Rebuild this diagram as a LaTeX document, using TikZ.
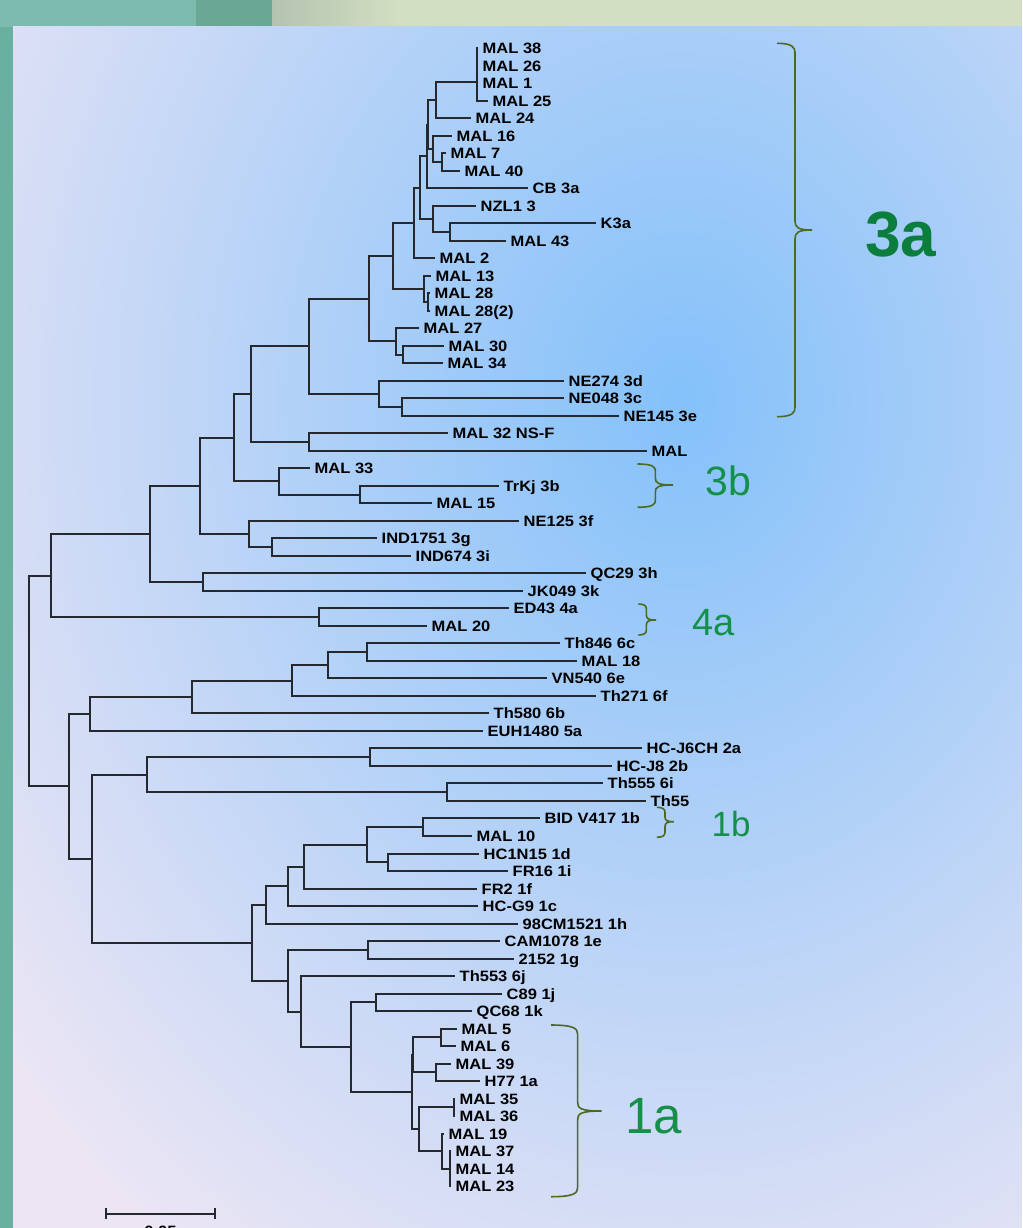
\documentclass[tikz,border=0pt]{standalone}
\usepackage{fontspec}
\newfontfamily\labfont{Liberation Sans Bold}[FakeStretch=1.1]
\newfontfamily\clfont{Liberation Sans}
\newfontfamily\clbfont{Liberation Sans Bold}
\definecolor{treec}{HTML}{25282E}
\definecolor{bracec}{HTML}{4E6A22}
\definecolor{clgreen}{HTML}{15904A}
\definecolor{cldark}{HTML}{0B7D3C}
\definecolor{blueC}{HTML}{84C1FA}
\definecolor{lavC}{HTML}{EBE5F4}
\definecolor{tealA}{HTML}{7DBBB1}
\definecolor{tealB}{HTML}{6AA795}
\definecolor{khakiA}{HTML}{D3DFC2}
\definecolor{khakiB}{HTML}{B4C2B0}
\definecolor{tealL}{HTML}{6AB0A0}
\tikzset{
  br/.style={draw=treec, line width=1.8pt, line cap=rect},
  lab/.style={anchor=west, inner sep=0pt, xshift=5.5pt, text height=10.7pt, text depth=0pt,
    font=\labfont\fontsize{15}{15}\selectfont, text=black},
  brc/.style={draw=bracec, line width=1.6pt},
  cl/.style={inner sep=0pt, anchor=west, text depth=0pt, text=clgreen}
}
\newcommand\cd[3]{\coordinate (#1) at ({round(#2)},{round(#3)});}
\newcommand\leaf[4]{\cd{t#1}{#2}{#3}\node[lab] (l#1) at (t#1) {#4};}
\newcommand\kids[2]{\foreach \c in {#2} {\draw[br] (#1) |- (\c);}}
\newcommand\cbrace[7]{%
  \draw[brc] (#1,#4) .. controls ({#2-0.4*#7},#4) and (#2,{#4+0.4*#7}) .. (#2,{#4+#7})
    -- (#2,{#5-#7}) .. controls (#2,{#5-0.3*#7}) and ({#2+0.3*#7},#5) .. (#3,#5)
    .. controls ({#2+0.3*#7},#5) and (#2,{#5+0.3*#7}) .. (#2,{#5+#7})
    -- (#2,{#6-#7}) .. controls (#2,{#6-0.4*#7}) and ({#2-0.4*#7},#6) .. (#1,#6);}
\begin{document}
\begin{tikzpicture}[x=1pt,y=-1pt]
\useasboundingbox (0,0) rectangle (1022,1228);
\clip (0,0) rectangle (1022,1228);
% background
\fill[tealL] (0,0) rectangle (13,1228);
\fill[tealA] (0,0) rectangle (196,27);
\fill[tealB] (196,0) rectangle (272,27);
\shade[left color=khakiB, right color=khakiA] (272,0) rectangle (400,27);
\fill[khakiA] (400,0) rectangle (1022,27);
\begin{scope}
  \clip (13,27) rectangle (1022,1228);
  \fill[lavC] (13,27) rectangle (1022,1228);
  \shade[inner color=blueC, outer color=lavC] (-180,-640) rectangle (1540,1440);
\end{scope}

% leaf tips and labels
\leaf{1}{477}{48.0}{MAL 38}
\leaf{2}{477}{65.5}{MAL 26}
\leaf{3}{477}{83.0}{MAL 1}
\leaf{4}{486.7}{100.5}{MAL 25}
\leaf{5}{470}{118.0}{MAL 24}
\leaf{6}{450.7}{135.6}{MAL 16}
\leaf{7}{444.5}{153.1}{MAL 7}
\leaf{8}{459}{170.6}{MAL 40}
\leaf{9}{527}{188.1}{CB 3a}
\leaf{10}{475}{205.6}{NZL1 3}
\leaf{11}{594.5}{223.1}{K3a}
\leaf{12}{504.5}{240.6}{MAL 43}
\leaf{13}{433.5}{258.1}{MAL 2}
\leaf{14}{430}{275.6}{MAL 13}
\leaf{15}{429}{293.1}{MAL 28}
\leaf{16}{429}{310.7}{MAL 28(2)}
\leaf{17}{417.5}{328.2}{MAL 27}
\leaf{18}{442.8}{345.7}{MAL 30}
\leaf{19}{442.3}{363.2}{MAL 34}
\leaf{20}{563.3}{380.7}{NE274 3d}
\leaf{21}{563.3}{398.2}{NE048 3c}
\leaf{22}{618.3}{415.7}{NE145 3e}
\leaf{23}{447}{433.2}{MAL 32 NS-F}
\leaf{24}{645.5}{450.8}{MAL}
\leaf{25}{309}{468.2}{MAL 33}
\leaf{26}{498}{485.8}{TrKj 3b}
\leaf{27}{431}{503.3}{MAL 15}
\leaf{28}{518}{520.8}{NE125 3f}
\leaf{29}{375.5}{538.3}{IND1751 3g}
\leaf{30}{410.3}{555.8}{IND674 3i}
\leaf{31}{585}{573.3}{QC29 3h}
\leaf{32}{522}{590.8}{JK049 3k}
\leaf{33}{507.5}{608.3}{ED43 4a}
\leaf{34}{426.3}{625.9}{MAL 20}
\leaf{35}{559}{643.4}{Th846 6c}
\leaf{36}{575.5}{660.9}{MAL 18}
\leaf{37}{545.5}{678.4}{VN540 6e}
\leaf{38}{594.5}{695.9}{Th271 6f}
\leaf{39}{487.5}{713.4}{Th580 6b}
\leaf{40}{481.5}{730.9}{EUH1480 5a}
\leaf{41}{640.5}{748.4}{HC-J6CH 2a}
\leaf{42}{610.5}{765.9}{HC-J8 2b}
\leaf{43}{601.5}{783.4}{Th555 6i}
\leaf{44}{645}{801.0}{Th55}
\leaf{45}{539}{818.4}{BID V417 1b}
\leaf{46}{471}{836.0}{MAL 10}
\leaf{47}{478}{853.5}{HC1N15 1d}
\leaf{48}{507}{871.0}{FR16 1i}
\leaf{49}{475.5}{888.5}{FR2 1f}
\leaf{50}{476.5}{906.0}{HC-G9 1c}
\leaf{51}{517}{923.5}{98CM1521 1h}
\leaf{52}{498.5}{941.0}{CAM1078 1e}
\leaf{53}{512.5}{958.5}{2152 1g}
\leaf{54}{453.5}{976.0}{Th553 6j}
\leaf{55}{500.5}{993.5}{C89 1j}
\leaf{56}{470.5}{1011.1}{QC68 1k}
\leaf{57}{455.5}{1028.6}{MAL 5}
\leaf{58}{454.5}{1046.1}{MAL 6}
\leaf{59}{449.5}{1063.6}{MAL 39}
\leaf{60}{478.5}{1081.1}{H77 1a}
\leaf{61}{454}{1098.6}{MAL 35}
\leaf{62}{454}{1116.1}{MAL 36}
\leaf{63}{443}{1133.6}{MAL 19}
\leaf{64}{450}{1151.1}{MAL 37}
\leaf{65}{450}{1168.6}{MAL 14}
\leaf{66}{450}{1186.2}{MAL 23}

% internal nodes
\cd{A}{477}{82.3}
\cd{B}{436}{100.2}
\cd{n78}{441.7}{161.9}
\cd{C}{432.7}{148.7}
\cd{D}{428}{124.5}
\cd{E}{426.5}{156.3}
\cd{G}{450}{231.9}
\cd{F}{433}{218.7}
\cd{X1}{419.5}{187.5}
\cd{X2}{414}{222.8}
\cd{H}{428}{301.9}
\cd{I}{424}{288.8}
\cd{X3}{393}{255.8}
\cd{n3034}{403.3}{354.5}
\cd{n27}{396}{341.3}
\cd{X4}{369.3}{298.6}
\cd{ne2}{402.3}{407}
\cd{ne1}{379.3}{393.8}
\cd{X5}{309}{346.2}
\cd{n32}{309}{442}
\cd{X6}{251}{394.1}
\cd{K}{359.8}{494.5}
\cd{J}{279}{481.4}
\cd{X7}{233.5}{437.7}
\cd{M}{271.9}{547}
\cd{L}{249}{533.9}
\cd{X8}{200.4}{485.8}
\cd{N}{203}{582}
\cd{X9}{150}{533.9}
\cd{O}{318.8}{617.1}
\cd{X10}{51.3}{575.5}
\cd{P}{367}{652.1}
\cd{Q}{328}{665.3}
\cd{R}{292.4}{680.6}
\cd{S}{191.5}{697}
\cd{T}{90.2}{714}
\cd{n2}{369.8}{757.1}
\cd{n6}{446.9}{792.2}
\cd{Y}{146.9}{774.7}
\cd{AE}{422.7}{827.2}
\cd{AF}{387.8}{862.3}
\cd{AD}{367.4}{844.7}
\cd{AC}{304.4}{866.6}
\cd{AB}{288.4}{886.3}
\cd{AA}{266.1}{904.9}
\cd{AG}{368.4}{949.8}
\cd{AK}{375.6}{1002.3}
\cd{n56}{441}{1037.3}
\cd{n39}{435.7}{1072.4}
\cd{AM}{413.3}{1054.8}
\cd{n3536}{454}{1107.3}
\cd{n37}{450}{1168.6}
\cd{AO}{442.3}{1151.1}
\cd{AN}{419.3}{1129.2}
\cd{AL}{411.7}{1092}
\cd{AJ}{351.2}{1047.1}
\cd{AI}{300.7}{1011.6}
\cd{AH}{288}{980.7}
\cd{Z}{252.3}{942.8}
\cd{W}{92.1}{858.7}
\cd{V}{69.3}{786.4}
\cd{root}{29}{681}

% branches
\kids{A}{t1,t2,t3,t4}
\kids{B}{A,t5}
\kids{n78}{t7,t8}
\kids{C}{t6,n78}
\kids{D}{B,C}
\kids{E}{D,t9}
\kids{G}{t11,t12}
\kids{F}{t10,G}
\kids{X1}{E,F}
\kids{X2}{X1,t13}
\kids{H}{t15,t16}
\kids{I}{t14,H}
\kids{X3}{X2,I}
\kids{n3034}{t18,t19}
\kids{n27}{t17,n3034}
\kids{X4}{X3,n27}
\kids{ne2}{t21,t22}
\kids{ne1}{t20,ne2}
\kids{X5}{X4,ne1}
\kids{n32}{t23,t24}
\kids{X6}{X5,n32}
\kids{K}{t26,t27}
\kids{J}{t25,K}
\kids{X7}{X6,J}
\kids{M}{t29,t30}
\kids{L}{t28,M}
\kids{X8}{X7,L}
\kids{N}{t31,t32}
\kids{X9}{X8,N}
\kids{O}{t33,t34}
\kids{X10}{X9,O}
\kids{P}{t35,t36}
\kids{Q}{P,t37}
\kids{R}{Q,t38}
\kids{S}{R,t39}
\kids{T}{S,t40}
\kids{n2}{t41,t42}
\kids{n6}{t43,t44}
\kids{Y}{n2,n6}
\kids{AE}{t45,t46}
\kids{AF}{t47,t48}
\kids{AD}{AE,AF}
\kids{AC}{AD,t49}
\kids{AB}{AC,t50}
\kids{AA}{AB,t51}
\kids{AG}{t52,t53}
\kids{AK}{t55,t56}
\kids{n56}{t57,t58}
\kids{n39}{t59,t60}
\kids{AM}{n56,n39}
\kids{n3536}{t61,t62}
\kids{n37}{t64,t65,t66}
\kids{AO}{t63,n37}
\kids{AN}{n3536,AO}
\kids{AL}{AM,AN}
\kids{AJ}{AK,AL}
\kids{AI}{t54,AJ}
\kids{AH}{AG,AI}
\kids{Z}{AA,AH}
\kids{W}{Y,Z}
\kids{V}{T,W}
\kids{root}{X10,V}

% braces and cluster labels
\cbrace{777}{795}{812}{43.3}{230}{416.7}{9}
\cbrace{637.5}{655.4}{673}{464}{485}{507.3}{7}
\cbrace{638.4}{646.4}{656}{604}{620}{635}{5}
\cbrace{656.8}{665}{673.8}{807.3}{821.7}{837.3}{5}
\cbrace{551}{577.6}{601.5}{1025}{1111}{1196.7}{9}
\node[cl, text=cldark, font=\clbfont\fontsize{64}{64}\selectfont, text height=45.8pt] (c3a) at (865,233.4) {3a};
\node[cl, font=\clfont\fontsize{41}{41}\selectfont, text height=29.4pt] (c3b) at (705,481) {3b};
\node[cl, font=\clfont\fontsize{38}{38}\selectfont, text height=27.2pt] (c4a) at (692,622) {4a};
\node[cl, font=\clfont\fontsize{35}{35}\selectfont, text height=25pt] (c1b) at (711.5,824.2) {1b};
\node[cl, font=\clfont\fontsize{51}{51}\selectfont, text height=36.5pt] (c1a) at (625,1115) {1a};

% scale bar
\cd{sb1}{106}{1214}
\cd{sb2}{215}{1214}
\draw[draw=treec, line width=1.8pt] (sb1) -- (sb2);
\draw[draw=treec, line width=1.8pt] ([yshift=-5pt]sb1) -- ([yshift=6pt]sb1);
\draw[draw=treec, line width=1.8pt] ([yshift=-5pt]sb2) -- ([yshift=6pt]sb2);
\node[anchor=north, inner sep=0pt, font=\labfont\fontsize{15}{15}\selectfont, text height=10.7pt] (sbl) at (160.5,1226) {0.05};
\end{tikzpicture}
\end{document}
